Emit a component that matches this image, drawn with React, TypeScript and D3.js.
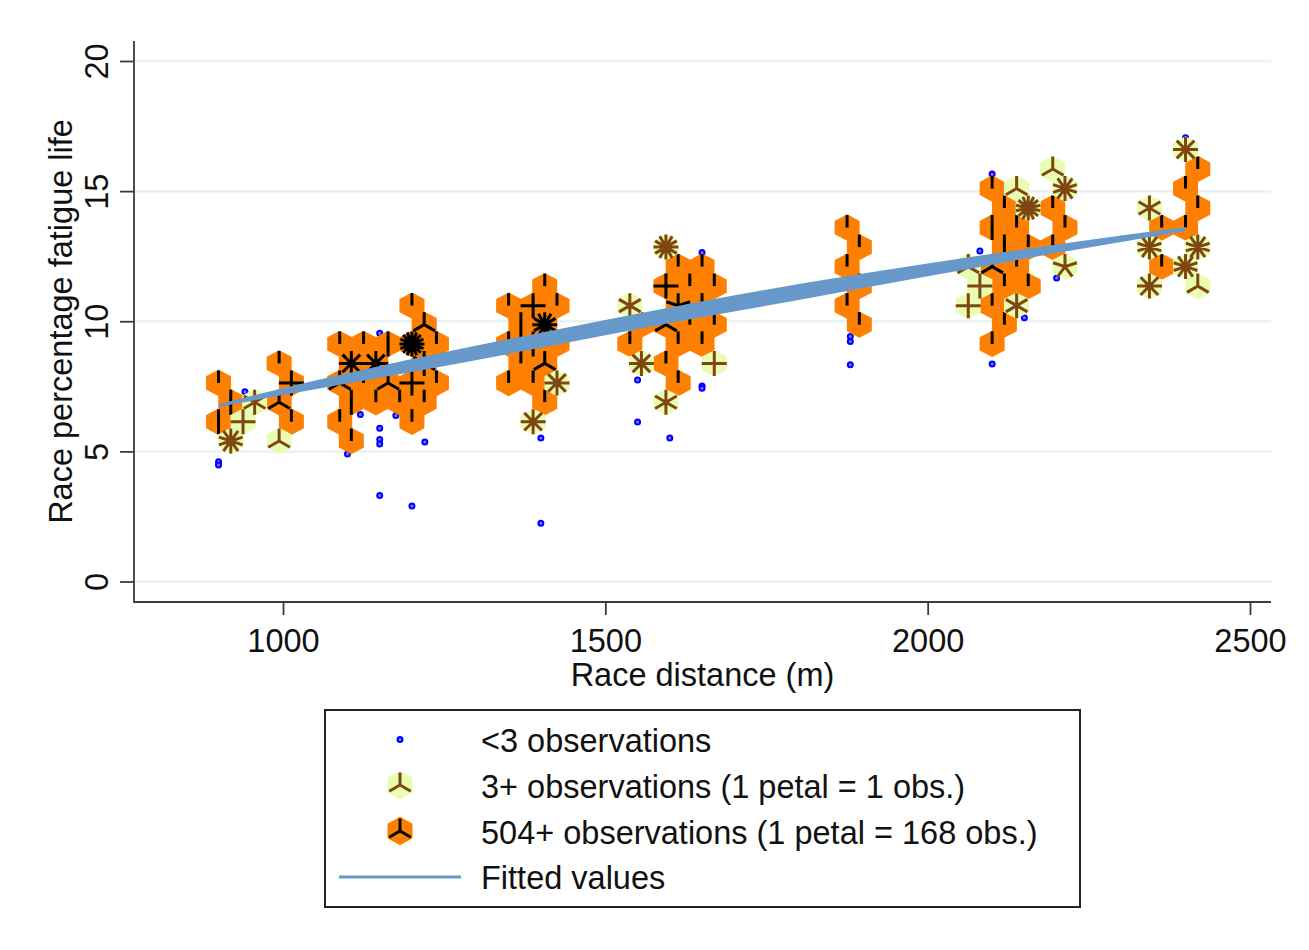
import React from 'react';
import * as d3 from 'd3';

type Flower = [number, number, number];

// [distance, fatigue life]
const singlePoints: [number, number][] = [
    [941, 7.29], [900, 4.6], [900, 4.48], [1150, 9.54], [1120, 6.42], [1175, 6.38], [1150, 5.89],
    [1150, 5.46], [1150, 5.28], [1220, 5.36], [1100, 4.9], [1150, 3.3], [1200, 2.9],
    [1650, 12.64], [1550, 7.74], [1650, 7.51], [1650, 7.43], [1550, 6.13], [1600, 5.51], [1400, 5.51], [1400, 2.24],
    [1880, 9.41], [1880, 9.22], [1880, 8.33], [2100, 15.66], [2081, 12.7], [2200, 11.66], [2150, 10.13], [2100, 8.36],
    [2400, 17.05],
];

// [distance, fatigue life, petals]
const lightFlowers: Flower[] = [
    [956, 6.89, 6], [938, 6.14, 4], [919, 5.4, 10], [994, 5.4, 3],
    [1425, 7.63, 8], [1388, 6.14, 8], [1594, 12.85, 12], [1538, 10.6, 6], [1556, 8.38, 8], [1594, 6.89, 6], [1669, 8.38, 4],
    [2138, 15.1, 3], [2156, 14.35, 14], [2194, 15.85, 3], [2213, 15.1, 10], [2213, 12.1, 5],
    [2063, 12.1, 3], [2081, 11.35, 4], [2063, 10.6, 4], [2138, 10.6, 6],
    [2400, 16.6, 8], [2344, 14.35, 6], [2344, 12.85, 10], [2419, 12.85, 10], [2400, 12.1, 10], [2344, 11.35, 8], [2419, 11.35, 3],
];

const darkFlowers: Flower[] = [
    [900, 7.63, 1], [919, 6.89, 2], [900, 6.14, 2], [994, 8.38, 1], [1013, 7.63, 4], [994, 6.89, 3], [1013, 6.14, 1],
    [1088, 9.13, 1], [1125, 9.13, 1], [1163, 9.13, 2], [1106, 8.38, 8], [1144, 8.38, 8], [1200, 9.13, 16], [1200, 10.6, 1],
    [1219, 9.87, 3], [1238, 9.13, 1], [1088, 7.63, 3], [1125, 7.63, 1], [1163, 7.63, 3], [1200, 7.63, 4], [1238, 7.63, 1],
    [1219, 8.38, 6], [1106, 6.89, 2], [1144, 6.89, 1], [1181, 6.89, 1], [1219, 6.89, 1], [1088, 6.14, 1], [1106, 5.4, 1], [1200, 6.14, 1],
    [1350, 10.6, 1], [1388, 10.6, 4], [1425, 10.6, 1], [1406, 11.35, 1], [1369, 9.87, 2], [1406, 9.87, 12],
    [1350, 9.13, 1], [1388, 9.13, 2], [1425, 9.13, 1], [1369, 8.38, 1], [1406, 8.38, 3], [1350, 7.63, 1], [1388, 7.63, 1], [1406, 6.89, 1],
    [1613, 12.1, 1], [1650, 12.1, 1], [1594, 11.35, 4], [1631, 11.35, 1], [1669, 11.35, 1], [1613, 10.6, 5], [1650, 10.6, 1],
    [1594, 9.87, 3], [1631, 9.87, 1], [1669, 9.87, 1], [1556, 9.87, 1], [1538, 9.13, 1], [1613, 9.13, 1], [1650, 9.13, 1],
    [1594, 8.38, 1], [1613, 7.63, 1],
    [1875, 13.6, 1], [1894, 12.85, 1], [1875, 12.1, 1], [1894, 11.35, 1], [1875, 10.6, 1], [1894, 9.87, 1],
    [2100, 15.1, 1], [2119, 14.35, 1], [2100, 13.6, 2], [2138, 13.6, 1], [2119, 12.85, 2], [2156, 12.85, 1], [2100, 12.1, 3],
    [2138, 12.1, 1], [2119, 11.35, 1], [2156, 11.35, 1], [2100, 10.6, 1], [2119, 9.87, 1], [2100, 9.13, 1],
    [2194, 14.35, 1], [2213, 13.6, 1], [2194, 12.85, 1],
    [2419, 15.85, 1], [2400, 15.1, 1], [2419, 14.35, 1], [2363, 13.6, 1], [2400, 13.6, 1], [2363, 12.1, 1],
];

// fitted values come out as a thin lens, so keep both edges
const fitDistance = [900, 1000, 1200, 1400, 1600, 1800, 2000, 2200, 2400];
const fitUpper = [6.82, 7.43, 8.55, 9.56, 10.53, 11.43, 12.22, 12.95, 13.62];
const fitLower = [6.71, 7.17, 8.05, 8.98, 9.93, 10.82, 11.73, 12.62, 13.47];

const xTicks = [1000, 1500, 2000, 2500];
const yTicks = [0, 5, 10, 15, 20];

const legendLabels = [
    '<3 observations',
    '3+ observations (1 petal = 1 obs.)',
    '504+ observations (1 petal = 168 obs.)',
    'Fitted values',
];

const FONT = '"Liberation Sans", Arial, sans-serif';
const FONT_SIZE = 32.5;
const BLUE = '#0000ff';
const LIGHT = '#e8fcb2';
const ORANGE = '#ff7f00';
const BROWN = '#7f4710';
const FIT = '#6699c9';
const GRID = '#eaf2f3';
const AXIS = '#3c3c3c';

const plotChart = (ref: React.RefObject<SVGSVGElement | null>) => {
    const svg = d3.select(ref.current);
    svg.selectAll('*').remove();
    svg.attr('width', 1309).attr('height', 950).style('position', 'absolute').style('left', 0).style('top', 0);
    svg.append('rect').attr('width', 1309).attr('height', 950).attr('fill', '#fff');

    const plot = { left: 134, right: 1271, top: 41, bottom: 602 };
    const x = d3.scaleLinear().domain([1000, 2500]).range([283, 1250]);
    const y = d3.scaleLinear().domain([0, 20]).range([581.5, 61]);

    // Gridlines
    svg.append('g').selectAll('line').data(yTicks).enter().append('line')
        .attr('x1', plot.left).attr('x2', plot.right)
        .attr('y1', d => y(d)).attr('y2', d => y(d))
        .attr('stroke', GRID).attr('stroke-width', 2.5);

    // Axes
    const xAxis = svg.append('g')
        .attr('transform', 'translate(0,' + plot.bottom + ')')
        .call(d3.axisBottom(x).tickValues(xTicks).tickSize(13).tickSizeOuter(0).tickFormat(d3.format('d')));
    const yAxis = svg.append('g')
        .attr('transform', 'translate(' + plot.left + ',0)')
        .call(d3.axisLeft(y).tickValues(yTicks).tickSize(14).tickSizeOuter(0).tickFormat(d3.format('d')));
    xAxis.select('.domain').remove();
    yAxis.select('.domain').remove();
    [xAxis, yAxis].forEach(axis => {
        axis.selectAll('line').attr('stroke', AXIS).attr('stroke-width', 1.8);
        axis.selectAll('text').attr('font-family', FONT).attr('font-size', FONT_SIZE).attr('fill', '#111');
    });
    xAxis.selectAll('text').attr('y', 49.5).attr('dy', null);
    yAxis.selectAll('text')
        .attr('x', null).attr('dy', null)
        .attr('text-anchor', 'middle')
        .attr('transform', 'translate(-26,0) rotate(-90)');

    svg.append('path')
        .attr('d', `M${plot.left},${plot.top}V${plot.bottom}H${plot.right}`)
        .attr('fill', 'none').attr('stroke', AXIS).attr('stroke-width', 1.8);

    svg.append('text')
        .attr('x', 702.5).attr('y', 686).attr('text-anchor', 'middle')
        .attr('font-family', FONT).attr('font-size', FONT_SIZE).attr('fill', '#111')
        .text('Race distance (m)');
    svg.append('text')
        .attr('transform', 'translate(72,321.5) rotate(-90)').attr('text-anchor', 'middle')
        .attr('font-family', FONT).attr('font-size', FONT_SIZE).attr('fill', '#111')
        .text('Race percentage fatigue life');

    // Single observations
    const drawDot = (g: any, cx: number, cy: number) => {
        g.append('circle')
            .attr('cx', cx).attr('cy', cy).attr('r', 2.5)
            .attr('fill', '#7777ff').attr('stroke', BLUE).attr('stroke-width', 2);
    };
    const dots = svg.append('g');
    singlePoints.forEach(d => drawDot(dots, x(d[0]), y(d[1])));

    // Sunflowers: hexagon plus one line per petal, first petal straight up
    const drawFlower = (g: any, cx: number, cy: number, petals: number, fill: string, stroke: string, ry: number) => {
        const rx = 12.5;
        const hex = d3.path();
        hex.moveTo(cx, cy - ry);
        hex.lineTo(cx + rx, cy - ry / 2);
        hex.lineTo(cx + rx, cy + ry / 2);
        hex.lineTo(cx, cy + ry);
        hex.lineTo(cx - rx, cy + ry / 2);
        hex.lineTo(cx - rx, cy - ry / 2);
        hex.closePath();
        g.append('path').attr('d', hex.toString()).attr('fill', fill);
        return () => {
            const p = d3.path();
            d3.range(petals).forEach(i => {
                const a = (2 * Math.PI * i) / petals;
                p.moveTo(cx, cy);
                p.lineTo(cx + 12.5 * Math.sin(a), cy - 12.5 * Math.cos(a));
            });
            g.append('path').attr('d', p.toString()).attr('fill', 'none').attr('stroke', stroke).attr('stroke-width', 3);
        };
    };
    const drawFlowers = (rows: Flower[], fill: string, stroke: string) => {
        const g = svg.append('g');
        const petals = rows.map(d => drawFlower(g, x(d[0]), y(d[1]), d[2], fill, stroke, 13.2));
        petals.forEach(draw => draw());
    };
    drawFlowers(darkFlowers, ORANGE, '#000');
    drawFlowers(lightFlowers, LIGHT, BROWN);

    // Fitted values
    const band = d3.area<number>()
        .x(d => x(d))
        .y0((d, i) => y(fitLower[i]))
        .y1((d, i) => y(fitUpper[i]))
        .curve(d3.curveMonotoneX);
    svg.append('path').datum(fitDistance).attr('d', band).attr('fill', FIT);

    // Legend
    const legend = svg.append('g');
    legend.append('rect')
        .attr('x', 325).attr('y', 710).attr('width', 755).attr('height', 197)
        .attr('fill', '#fff').attr('stroke', '#222').attr('stroke-width', 2);
    const rowY = [740, 786, 832, 877];
    legendLabels.forEach((label, i) => {
        legend.append('text')
            .attr('x', 481).attr('y', rowY[i]).attr('dy', '0.36em')
            .attr('font-family', FONT).attr('font-size', FONT_SIZE).attr('fill', '#111')
            .text(label);
    });
    drawDot(legend, 400, 739.5);
    drawFlower(legend, 400, 785, 3, LIGHT, BROWN, 14.3)();
    drawFlower(legend, 400, 831, 3, ORANGE, '#000', 14.3)();
    legend.append('line')
        .attr('x1', 339).attr('x2', 461).attr('y1', 877).attr('y2', 877)
        .attr('stroke', FIT).attr('stroke-width', 3);
};

function App() {
    const ref = React.useRef<SVGSVGElement>(null);

    React.useEffect(() => {
        plotChart(ref);
    }, []);

    return <svg ref={ref} />;
}

export default App;
